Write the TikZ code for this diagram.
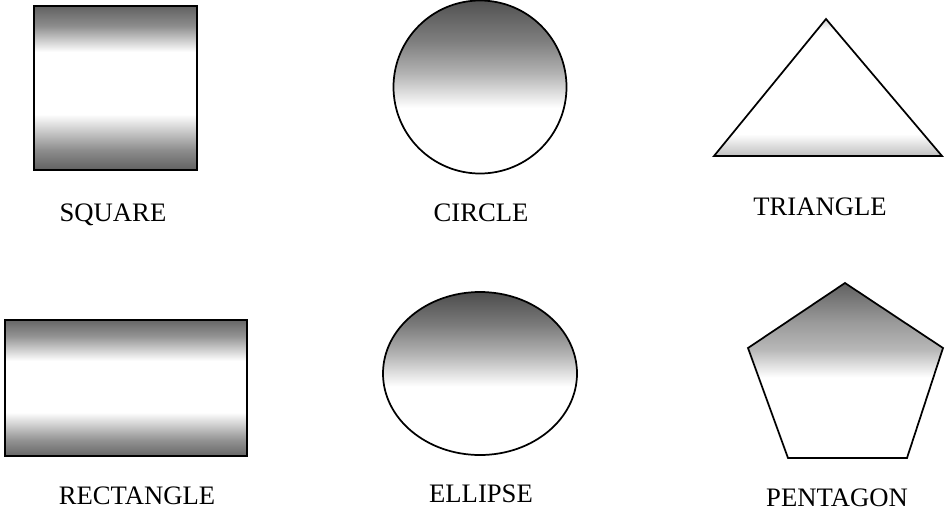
\documentclass[tikz,border=0pt]{standalone}
\usepackage{fontspec}
\setmainfont{Liberation Serif}
\pgfdeclareverticalshading{sqshade}{100bp}{color(0bp)=(black!62); color(25bp)=(black!62); color(31bp)=(black!45); color(42bp)=(white); color(61bp)=(white); color(69bp)=(black!45); color(75bp)=(black!62); color(100bp)=(black!62)}
\pgfdeclareverticalshading{rectshade}{100bp}{color(0bp)=(black!60); color(25bp)=(black!60); color(31bp)=(black!42); color(41bp)=(white); color(60bp)=(white); color(69bp)=(black!42); color(75bp)=(black!60); color(100bp)=(black!60)}
\pgfdeclareverticalshading{topshade}{100bp}{color(0bp)=(white); color(44bp)=(white); color(54bp)=(black!30); color(63bp)=(black!50); color(75bp)=(black!68); color(100bp)=(black!68)}
\pgfdeclareverticalshading{ellshade}{100bp}{color(0bp)=(white); color(46bp)=(white); color(56bp)=(black!30); color(65bp)=(black!52); color(75bp)=(black!70); color(100bp)=(black!70)}
\pgfdeclareverticalshading{pentshade}{100bp}{color(0bp)=(white); color(48bp)=(white); color(56bp)=(black!28); color(64bp)=(black!40); color(75bp)=(black!62); color(100bp)=(black!62)}
\pgfdeclareverticalshading{trishade}{100bp}{color(0bp)=(black!25); color(25bp)=(black!25); color(33bp)=(white); color(71bp)=(white); color(75bp)=(black!18); color(100bp)=(black!18)}
\tikzset{
  outline/.style={draw=black, line width=1.3pt, line join=miter},
  lbl/.style={font=\fontsize{20}{22}\selectfont, inner sep=0pt, anchor=center}
}
\begin{document}
\begin{tikzpicture}[x=0.75pt, y=-0.75pt]
\useasboundingbox (0,0) rectangle (946,522);
% top row
\path[outline, shading=sqshade] (34,6) rectangle (197,170);
\path[outline, shading=topshade] (480,87) circle (86.5);
\path[outline, shading=trishade] (826,19) -- (942,156) -- (714,156) -- cycle;
\node[lbl] (square) at (113,215) {SQUARE};
\node[lbl] (circle) at (481,213) {CIRCLE};
\node[lbl] (triangle) at (820,207) {TRIANGLE};
% bottom row
\path[outline, shading=rectshade] (5,320) rectangle (247,456);
\path[outline, shading=ellshade] (480,373.5) ellipse (97 and 81.5);
\path[outline, shading=pentshade] (845,283) -- (943,348) -- (907,458) -- (788,458) -- (748,348) -- cycle;
\node[lbl] (rectangle) at (137,496) {RECTANGLE};
\node[lbl] (ellipse) at (481,494) {ELLIPSE};
\node[lbl] (pentagon) at (837,498) {PENTAGON};
\end{tikzpicture}
\end{document}
